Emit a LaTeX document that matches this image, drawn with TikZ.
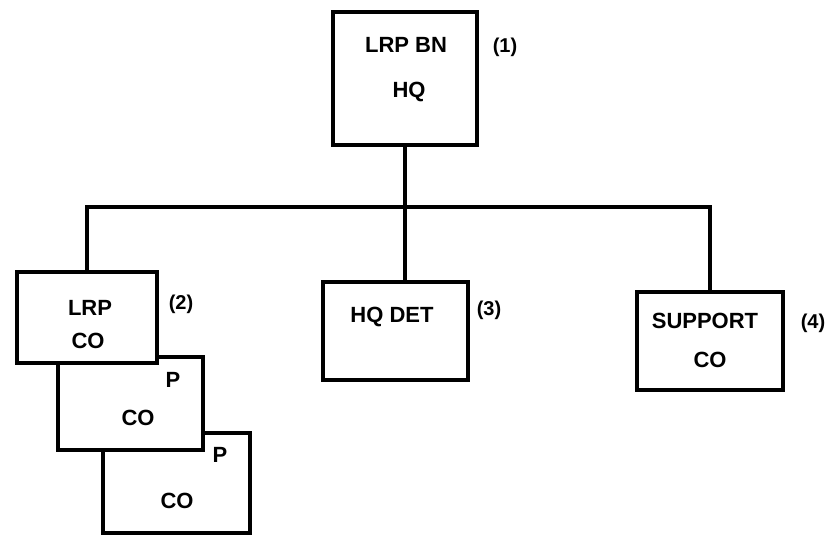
\documentclass[tikz,border=0pt]{standalone}
\usepackage{fontspec}
\setmainfont{Liberation Sans}
\usetikzlibrary{positioning}

\begin{document}
\begin{tikzpicture}[x=1pt, y=-1pt,
  font=\fontsize{22}{26}\selectfont\bfseries,
  % unit = plain thick rectangle, white so the ones behind are hidden
  unitbox/.style={rectangle, draw=black, fill=white, line width=3.8pt, inner sep=0pt},
  % text inside a box
  boxtext/.style={inner sep=0pt, anchor=base},
  % number next to a box
  tag/.style={inner sep=0pt, anchor=base, font=\fontsize{20}{24}\selectfont\bfseries},
  link/.style={line width=3.8pt}
]
\useasboundingbox (0,0) rectangle (826,538);

% ---- Battalion HQ (top) ----
\node[unitbox, minimum width=144, minimum height=133] (hq) at (405,78.5) {};
\node[boxtext] (hqa) at (406,52) {LRP BN};
\node[boxtext] (hqb) at (409,97) {HQ};
\node[tag] (t1) at (505,52) {(1)};

% ---- Companies (stacked, back to front) ----
\node[unitbox, minimum width=147, minimum height=100] (co3) at (176.5,483) {};
\node[boxtext] (co3p) at (220,462) {P};
\node[boxtext] (co3c) at (177,508) {CO};
\node[unitbox, minimum width=145, minimum height=93] (co2) at (130.5,403.5) {};
\node[boxtext] (co2p) at (173,387) {P};
\node[boxtext] (co2c) at (138,425) {CO};
\node[unitbox, minimum width=140, minimum height=91] (lrp) at (87,317.5) {};
\node[boxtext] (lrpa) at (90,315) {LRP};
\node[boxtext] (lrpb) at (88,348) {CO};
\node[tag] (t2) at (181,309) {(2)};

% ---- HQ detachment ----
\node[unitbox, minimum width=145, minimum height=98] (hqdet) at (395.5,331) {};
\node[boxtext] (hqdeta) at (392,322) {HQ DET};
\node[tag] (t3) at (489,315) {(3)};

% ---- Support company ----
\node[unitbox, minimum width=146, minimum height=98] (support) at (710,341) {};
\node[boxtext] (supporta) at (705,328) {SUPPORT};
\node[boxtext] (supportb) at (710,367) {CO};
\node[tag] (t4) at (813,328) {(4)};

% ---- Links ----
\coordinate (bus) at (405,207);
\draw[link] (hq.south) -- (hq.south |- hqdet.north);
\draw[link] (lrp.north) |- (bus) -| (support.north);

\end{tikzpicture}
\end{document}
